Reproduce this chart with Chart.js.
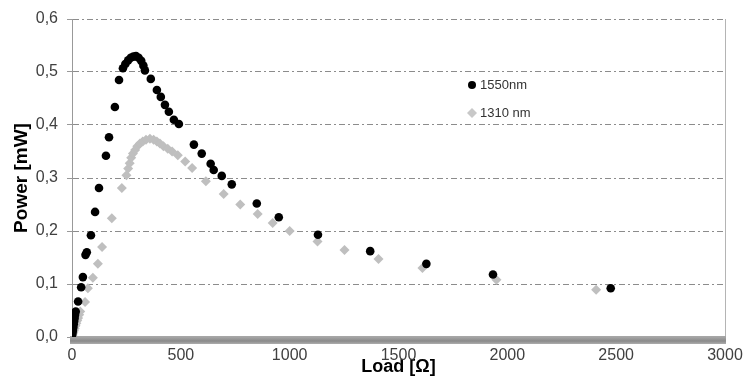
<!DOCTYPE html>
<html>
<head>
<meta charset="utf-8">
<script src="https://cdn.jsdelivr.net/npm/chart.js@4/dist/chart.umd.min.js"></script>
<style>
html, body { margin:0; padding:0; background:#fff; }
#wrap { width:745px; height:378px; position:relative; }
</style>
</head>
<body>
<div id="wrap"><canvas id="powerChart"></canvas></div>
<script>
// 1550nm (black dots)
var load1550 = [0,2,4,6,8,10,12,14,17,28,42,50,62,68,87,106,124,156,170,197,216,234,245,258,270,282,294,306,318,328,335,362,390,408,427,445,468,491,560,596,637,651,688,734,849,950,1130,1370,1628,1934,2475];
var power1550 = [0,0.006,0.012,0.018,0.024,0.03,0.036,0.042,0.048,0.067,0.094,0.113,0.155,0.16,0.192,0.236,0.281,0.342,0.377,0.434,0.485,0.507,0.515,0.522,0.527,0.529,0.53,0.527,0.521,0.512,0.503,0.487,0.466,0.453,0.438,0.425,0.41,0.402,0.363,0.346,0.327,0.315,0.304,0.288,0.252,0.226,0.193,0.162,0.138,0.118,0.092];

// 1310 nm (grey diamonds)
var load1310 = [0,3,6,9,12,16,20,24,28,33,38,60,73,96,119,138,183,229,250,258,265,272,280,290,300,312,325,340,358,375,390,404,420,440,460,486,520,552,615,697,773,853,922,1000,1128,1252,1408,1610,1950,2408];
var power1310 = [0,0.004,0.008,0.012,0.016,0.021,0.026,0.031,0.036,0.042,0.048,0.066,0.092,0.112,0.138,0.17,0.224,0.281,0.305,0.318,0.328,0.338,0.346,0.353,0.36,0.365,0.369,0.372,0.374,0.372,0.369,0.365,0.36,0.355,0.35,0.343,0.331,0.319,0.294,0.27,0.25,0.232,0.215,0.2,0.18,0.164,0.147,0.13,0.108,0.089];

var seriesNames = ['1550nm', '1310 nm'];
var xTicks = [0,500,1000,1500,2000,2500,3000];
var yTicks = [0,0.1,0.2,0.3,0.4,0.5,0.6];

function toPoints(xs, ys){
	var pts = [];
	for(var i=0; i<xs.length; i++){
		pts.push({x: xs[i], y: ys[i]});
	}
	return pts;
}

var fam = "'Liberation Sans Narrow', 'Liberation Sans', Arial";
var tickFont = {family: fam, size: 16};

// excel style 3d floor under the x axis + right wall edge
var floorPlugin = {
	id: 'floorPlugin',
	beforeDatasetsDraw: function(chart){
		var ctx = chart.ctx, a = chart.chartArea;
		ctx.save();
		ctx.strokeStyle = '#b4b4b4';
		ctx.lineWidth = 1;
		ctx.beginPath();
		ctx.moveTo(a.right + 0.5, a.top);
		ctx.lineTo(a.right + 0.5, a.bottom);
		ctx.stroke();
		var g = ctx.createLinearGradient(0, a.bottom, 0, a.bottom + 8);
		g.addColorStop(0, '#a6a6a6');
		g.addColorStop(0.5, '#8a8a8a');
		g.addColorStop(1, '#b8b8b8');
		ctx.fillStyle = g;
		ctx.fillRect(a.left - 2, a.bottom - 1, a.right - a.left + 3, 8);
		ctx.restore();
	}
};

// legend drawn inside the plot area
var legendPlugin = {
	id: 'legendPlugin',
	afterDraw: function(chart){
		var ctx = chart.ctx;
		var x0 = 472, rows = [85, 113];
		ctx.save();
		ctx.font = "13px 'Liberation Sans', Arial";
		ctx.textBaseline = 'middle';
		ctx.fillStyle = '#000';
		ctx.beginPath();
		ctx.arc(x0, rows[0], 4, 0, Math.PI*2);
		ctx.fill();
		ctx.fillStyle = '#c8c8c8';
		ctx.beginPath();
		ctx.moveTo(x0, rows[1]-5); ctx.lineTo(x0+5, rows[1]); ctx.lineTo(x0, rows[1]+5); ctx.lineTo(x0-5, rows[1]);
		ctx.closePath();
		ctx.fill();
		ctx.fillStyle = '#333';
		ctx.fillText(seriesNames[0], x0 + 8, rows[0]);
		ctx.fillText(seriesNames[1], x0 + 8, rows[1]);
		ctx.restore();
	}
};

var ctx = document.getElementById('powerChart').getContext('2d');
var myChart = new Chart(ctx, {
	type: 'scatter',
	data: {
		datasets: [
			{
				label: seriesNames[0],
				data: toPoints(load1550, power1550),
				pointStyle: 'circle',
				pointRadius: 4.3,
				pointBackgroundColor: '#000',
				pointBorderWidth: 0,
				borderColor: '#000'
			},
			{
				label: seriesNames[1],
				data: toPoints(load1310, power1310),
				pointStyle: 'rectRot',
				pointRadius: 5,
				pointBackgroundColor: '#bfbfbf',
				pointBorderWidth: 0,
				borderColor: '#bfbfbf'
			}
		]
	},
	options: {
		responsive: true,
		maintainAspectRatio: false,
		animation: false,
		layout: {padding: {top: 19, right: 20, left: 0, bottom: 0}},
		plugins: {
			legend: {display: false},
			tooltip: {enabled: false}
		},
		scales: {
			x: {
				type: 'linear',
				min: 0, max: 3000,
				afterBuildTicks: function(scale){ scale.ticks = xTicks.map(function(v){ return {value: v}; }); },
				afterFit: function(scale){ scale.height = 41; scale.paddingLeft = 0; scale.paddingRight = 0; },
				grid: {display: false, drawTicks: false},
				border: {display: false},
				ticks: {
					color: '#404040', font: tickFont, padding: 9, maxRotation: 0,
					callback: function(v){ return String(v); }
				},
				title: {display: true, text: 'Load [Ω]', color: '#000', font: {family: fam, size: 18, weight: 'bold'}, padding: {top: 0, bottom: 0}}
			},
			y: {
				min: 0, max: 0.6,
				afterBuildTicks: function(scale){ scale.ticks = yTicks.map(function(v){ return {value: v}; }); },
				afterFit: function(scale){ scale.width = 72; },
				grid: {color: '#8c8c8c', tickColor: '#999', tickLength: 5, tickBorderDash: []},
				border: {display: true, color: '#999', dash: [6,3,2,3]},
				ticks: {
					color: '#404040', font: tickFont, padding: 9,
					callback: function(v){ return v.toFixed(1).replace('.', ','); }
				},
				title: {display: true, text: 'Power [mW]', color: '#000', font: {family: fam, size: 19, weight: 'bold'}, padding: {top: 10, bottom: 0}}
			}
		}
	},
	plugins: [floorPlugin, legendPlugin]
});
</script>
</body>
</html>
